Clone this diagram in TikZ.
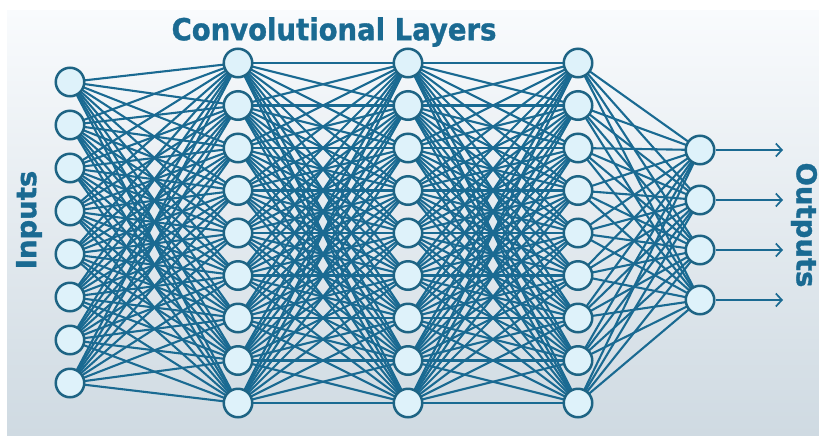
\documentclass[tikz,border=0pt]{standalone}
\usepackage{fontspec}
\newfontfamily\headfont[BoldFeatures = {FakeBold = 1.2}]{DejaVu Sans}
\usetikzlibrary{arrows.meta}
\usetikzlibrary{positioning}
\definecolor{netblue}{RGB}{26,106,146}
\definecolor{rimblue}{RGB}{30,100,132}
\definecolor{cellfill}{RGB}{222,242,250}
\definecolor{bgtop}{RGB}{249,251,253}
\definecolor{bgbottom}{RGB}{207,218,226}
\pgfdeclarelayer{back}
\pgfdeclarelayer{wires}
\pgfsetlayers{back,wires,main}
\tikzset{neuron/.style = {circle, draw = rimblue, fill = cellfill, line width = 2.5pt,
                          minimum size = 28.5pt, inner sep = 0pt},
         link/.style = {draw = netblue, line width = 2.1pt},
         outlink/.style = {draw = netblue, line width = 1.7pt,
                           -{Straight Barb[length = 6pt, width = 13pt, line width = 1.7pt]}},
         title/.style = {text = netblue,
                         font = \headfont\bfseries\fontsize{27.5}{28}\selectfont}}

\begin{document}
\begin{tikzpicture}[x = 1pt, y = -1pt]
  \useasboundingbox (0, 0) rectangle (819, 437);
  \begin{pgfonlayer}{back}
    \fill [white] (0, 0) rectangle (819, 437);
    \shade [top color = bgtop, bottom color = bgbottom] (7, 10) rectangle (819, 435);
  \end{pgfonlayer}

  % neurons
  \foreach \i in {1,...,8}
    \node [neuron] (in\i) at (70, {82 + 43*(\i-1)}) {};
  \foreach \l/\x in {a/238, b/408, c/578}
    \foreach \i in {1,...,9}
      \node [neuron] (\l\i) at (\x, {63 + 42.5*(\i-1)}) {};
  \foreach \i in {1,...,4}
    \node [neuron] (out\i) at (700, {150 + 50*(\i-1)}) {};

  % connections
  \begin{pgfonlayer}{wires}
    \foreach \i in {1,...,8}
      \foreach \j in {1,...,9}
        \draw [link] (in\i.center) -- (a\j.center);
    \foreach \i in {1,...,9}
      \foreach \j in {1,...,9}
        \draw [link] (a\i.center) -- (b\j.center)
                     (b\i.center) -- (c\j.center);
    \foreach \i in {1,...,9}
      \foreach \j in {1,...,4}
        \draw [link] (c\i.center) -- (out\j.center);
  \end{pgfonlayer}

  % outputs
  \foreach \i in {1,...,4} {
    \coordinate (tip\i) at (783, {150 + 50*(\i-1)});
    \draw [outlink] (out\i) -- (tip\i);
  }

  % labels
  \node [title, yscale = 1.1] (convlabel) at (334, 32) {Convolutional Layers};
  \node [title, rotate = 90] (inlabel) at (29, 220) {Inputs};
  \node [title, rotate = -90] (outlabel) at (804, 225) {Outputs};
\end{tikzpicture}
\end{document}
